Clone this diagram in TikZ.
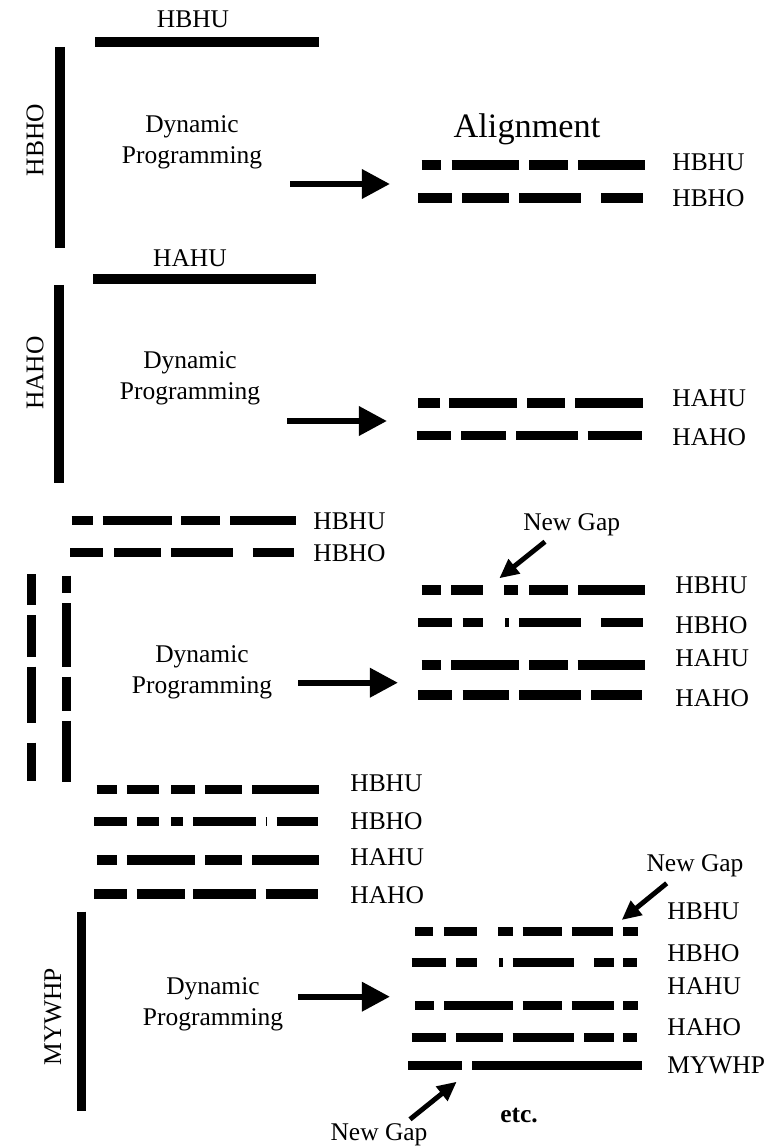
\documentclass[tikz,border=0pt]{standalone}
\usepackage{fontspec}
\setmainfont{Liberation Serif}
\usetikzlibrary{arrows.meta}

\begin{document}
\begin{tikzpicture}[x=.02cm,y=-.02cm,font=\fontsize{14.5}{17.6}\selectfont,
 bar/.style={line width=5.2pt},
 seqname/.style={anchor=west,inner sep=0pt},
 dp/.style={align=center,inner sep=0pt},
 flow/.style={-{Triangle[length=16pt,width=16pt]},line width=3.6pt},
 gapflow/.style={-{Triangle[length=11pt,width=10pt]},line width=2.8pt}]
\path[use as bounding box] (0,0) rectangle (782,1148);

% first pair: HBHU against HBHO
\node (hbhuA) at (193,19) {HBHU};
\draw[bar] (95,42) -- (319,42);
\draw[bar] (60,47) -- (60,248);
\node[rotate=90] (hbhoA) at (35,140) {HBHO};
\node[dp] (dpA) at (192,142.5) {Dynamic\\Programming};
\coordinate (fromA) at (290,184);
\coordinate (toA) at (390,184);
\draw[flow] (fromA) -- (toA);
\node[font=\fontsize{19.5}{22}\selectfont] (align) at (527,129) {Alignment};
\foreach \a/\b in {421.7/441,451.7/519.3,529.3/567.7,578.3/645}
 \draw[bar] (\a,165) -- (\b,165);
\foreach \a/\b in {418.3/451.7,462.3/509.3,519.3/581,601/643.3}
 \draw[bar] (\a,198) -- (\b,198);
\node[seqname] (rA1) at (672,162) {HBHU};
\node[seqname] (rA2) at (672,198) {HBHO};

% second pair: HAHU against HAHO
\node (hahuB) at (190,258) {HAHU};
\draw[bar] (93,279) -- (316,279);
\draw[bar] (59,285) -- (59,483);
\node[rotate=90] (hahoB) at (35,373) {HAHO};
\node[dp] (dpB) at (190,378.5) {Dynamic\\Programming};
\coordinate (fromB) at (287,421);
\coordinate (toB) at (387,421);
\draw[flow] (fromB) -- (toB);
\foreach \a/\b in {418.3/440,449.3/516.7,527.3/565,575/643.3}
 \draw[bar] (\a,403) -- (\b,403);
\foreach \a/\b in {416.7/450.7,461/506,516/577.7,587.7/641.7}
 \draw[bar] (\a,435.7) -- (\b,435.7);
\node[seqname] (rB1) at (672,398) {HAHU};
\node[seqname] (rB2) at (672,437) {HAHO};

% the two alignments against each other
\foreach \a/\b in {71.7/93.3,102.7/171.7,181/220,230/296}
 \draw[bar] (\a,520.7) -- (\b,520.7);
\foreach \a/\b in {70/103.3,114.3/161,171/232.7,252.7/294.3}
 \draw[bar] (\a,552.7) -- (\b,552.7);
\node[seqname] (lC1) at (313,521.7) {HBHU};
\node[seqname] (lC2) at (313,553.3) {HBHO};
\foreach \a/\b in {574/605,615/657.3,666.7/722.7,742.7/780.7}
 \draw[bar] (31.7,\a) -- (31.7,\b);
\foreach \a/\b in {575.7/593.3,603.3/666.7,676.7/710.7,720.7/782.3}
 \draw[bar] (66.7,\a) -- (66.7,\b);
\node[dp] (dpC) at (202,672) {Dynamic\\Programming};
\coordinate (fromC) at (298,682.7);
\coordinate (toC) at (398,682.7);
\draw[flow] (fromC) -- (toC);
\node (gapC) at (571.7,525) {New Gap};
\coordinate (gapCs) at (545,541.7);
\coordinate (gapCe) at (499.3,578.3);
\draw[gapflow] (gapCs) -- (gapCe);
\foreach \a/\b in {421.7/441,451/482.7,504.3/518.3,529.3/567.7,578.3/645}
 \draw[bar] (\a,590) -- (\b,590);
\foreach \a/\b in {418.3/451.7,462.7/482.7,505/509.3,519.3/581,601/643.3}
 \draw[bar] (\a,622.7) -- (\b,622.7);
\foreach \a/\b in {421.7/441,451/519.3,529.3/567.7,577.7/645}
 \draw[bar] (\a,665) -- (\b,665);
\foreach \a/\b in {418.3/451.7,462.7/509.3,519.3/581,591/642.3}
 \draw[bar] (\a,695) -- (\b,695);
\node[seqname] (rC1) at (675,585) {HBHU};
\node[seqname] (rC2) at (675,625) {HBHO};
\node[seqname] (rC3) at (675,658) {HAHU};
\node[seqname] (rC4) at (675,698) {HAHO};

% four-way alignment against MYWHP
\foreach \a/\b in {96.7/116.7,126.7/159.3,171/195,205/242.3,252.3/319.3}
 \draw[bar] (\a,789.3) -- (\b,789.3);
\foreach \a/\b in {94.3/126.7,136.7/159,171/183.3,193.3/255.7,265.5/266.5,276.7/317.7}
 \draw[bar] (\a,821.7) -- (\b,821.7);
\foreach \a/\b in {96.7/116.7,126.7/195,205/242.3,252.3/319.3}
 \draw[bar] (\a,860) -- (\b,860);
\foreach \a/\b in {94.3/126.7,136.7/185,193.3/255.7,265.7/317.7}
 \draw[bar] (\a,894) -- (\b,894);
\node[seqname] (lD1) at (350,783) {HBHU};
\node[seqname] (lD2) at (350,821) {HBHO};
\node[seqname] (lD3) at (350,857) {HAHU};
\node[seqname] (lD4) at (350,895) {HAHO};
\draw[bar] (81.7,911.7) -- (81.7,1110.7);
\node[rotate=90] (mywhpD) at (53,1016.7) {MYWHP};
\node[dp] (dpD) at (213,1004) {Dynamic\\Programming};
\coordinate (fromD) at (298,996.7);
\coordinate (toD) at (390,996.7);
\draw[flow] (fromD) -- (toD);
\node (gapD) at (695,866) {New Gap};
\coordinate (gapDs) at (666.7,883.3);
\coordinate (gapDe) at (621.7,920);
\draw[gapflow] (gapDs) -- (gapDe);
\foreach \a/\b in {415/433.3,444.3/476.7,498.3/512.7,522.7/561.7,571.7/613.3,623.3/637.7}
 \draw[bar] (\a,931.7) -- (\b,931.7);
\foreach \a/\b in {411.7/445.7,456/477.3,499/503.3,512.7/574.3,594.3/614.3,623.3/636.7}
 \draw[bar] (\a,962.7) -- (\b,962.7);
\foreach \a/\b in {415/434,444.3/512.7,522.7/561.7,571.7/614.3,623.3/637.7}
 \draw[bar] (\a,1005.7) -- (\b,1005.7);
\foreach \a/\b in {411.7/445.7,456/502.7,512.7/574.3,584.3/614.3,623.3/636.7}
 \draw[bar] (\a,1037.3) -- (\b,1037.3);
\foreach \a/\b in {408.3/462.3,472.3/641.7}
 \draw[bar] (\a,1065.7) -- (\b,1065.7);
\node[seqname] (rD1) at (667,911.7) {HBHU};
\node[seqname] (rD2) at (667,952.7) {HBHO};
\node[seqname] (rD3) at (667,986.7) {HAHU};
\node[seqname] (rD4) at (667,1026.7) {HAHO};
\node[seqname] (rD5) at (667,1065) {MYWHP};
\node (gapE) at (379,1135) {New Gap};
\coordinate (gapEs) at (410,1119.3);
\coordinate (gapEe) at (456.7,1081.7);
\draw[gapflow] (gapEs) -- (gapEe);
\node[font=\bfseries\fontsize{14.5}{17.6}\selectfont] (etc) at (519,1115) {etc.};
\end{tikzpicture}
\end{document}
